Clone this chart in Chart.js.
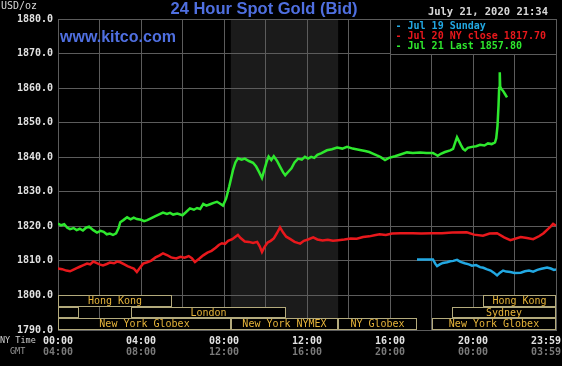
<!DOCTYPE html>
<html>
<head>
<meta charset="utf-8">
<script src="https://cdn.jsdelivr.net/npm/chart.js@4/dist/chart.umd.min.js"></script>
<style>
  html, body { margin: 0; padding: 0; background: #000; }
  canvas { display: block; }
</style>
</head>
<body>
<canvas id="goldChart" width="562" height="366"></canvas>
<script>
// Jul 21 (verde)
const greenHours = [0.00, 0.15, 0.30, 0.45, 0.58, 0.75, 0.90, 1.05, 1.20, 1.35, 1.50, 1.70, 1.88, 2.05, 2.20, 2.35, 2.50, 2.65, 2.80, 2.92,
  3.00, 3.15, 3.33, 3.50, 3.65, 3.80, 4.00, 4.15, 4.30, 4.50, 4.67, 4.85, 5.06, 5.25, 5.40, 5.55, 5.75, 6.00, 6.15, 6.36,
  6.55, 6.70, 6.85, 7.00, 7.15, 7.33, 7.50, 7.66, 7.80, 7.95, 8.10, 8.25, 8.43, 8.55, 8.67, 8.85, 9.00, 9.20, 9.40, 9.55,
  9.70, 9.83, 9.95, 10.05, 10.15, 10.28, 10.40, 10.55, 10.70, 10.85, 10.95, 11.10, 11.25, 11.40, 11.57, 11.75, 11.90, 12.05, 12.20, 12.35,
  12.50, 12.70, 12.96, 13.20, 13.45, 13.70, 13.93, 14.20, 14.55, 14.80, 15.00, 15.20, 15.37, 15.55, 15.76, 15.95, 16.24, 16.50, 16.82, 17.10,
  17.45, 17.75, 18.07, 18.20, 18.30, 18.45, 18.65, 18.90, 19.04, 19.14, 19.23, 19.33, 19.42, 19.52, 19.62, 19.75, 19.95, 20.15, 20.34, 20.55,
  20.72, 20.90, 21.06, 21.12, 21.18, 21.23, 21.26, 21.29, 21.31, 21.36, 21.45, 21.54, 21.64];
const greenValues = [1820.8, 1820.3, 1820.6, 1819.6, 1819.2, 1819.5, 1818.9, 1819.3, 1818.8, 1819.6, 1819.9, 1818.9, 1818.2, 1818.7, 1818.4, 1817.7, 1817.9, 1817.5, 1818.0, 1819.5,
  1821.2, 1821.8, 1822.6, 1822.0, 1822.5, 1822.1, 1821.9, 1821.5, 1821.8, 1822.4, 1822.9, 1823.4, 1824.0, 1823.6, 1823.9, 1823.4, 1823.7, 1823.2, 1824.0, 1825.2,
  1824.8, 1825.3, 1825.0, 1826.5, 1826.0, 1826.4, 1826.8, 1827.1, 1826.6, 1826.0, 1828.0, 1831.5, 1836.2, 1838.5, 1839.7, 1839.3, 1839.6, 1838.9, 1838.4, 1837.3,
  1835.6, 1834.0, 1836.5, 1838.6, 1840.2, 1839.2, 1840.3, 1839.0, 1837.3, 1835.6, 1834.8, 1835.8, 1836.8, 1838.5, 1839.6, 1839.3, 1840.1, 1839.6, 1840.1, 1839.8,
  1840.7, 1841.2, 1842.0, 1842.3, 1842.8, 1842.5, 1843.0, 1842.5, 1842.1, 1841.8, 1841.5, 1841.0, 1840.5, 1840.0, 1839.2, 1839.8, 1840.3, 1840.8, 1841.4, 1841.2,
  1841.4, 1841.2, 1841.2, 1840.8, 1840.4, 1841.0, 1841.5, 1842.0, 1842.4, 1844.2, 1845.8, 1844.6, 1843.5, 1842.4, 1842.0, 1842.7, 1843.0, 1843.2, 1843.6, 1843.4,
  1844.0, 1843.8, 1844.3, 1845.5, 1849.0, 1855.0, 1860.0, 1864.6, 1860.5, 1859.8, 1859.2, 1858.3, 1857.3];

// Jul 20 (vermelho)
const redHours = [0.00, 0.20, 0.40, 0.58, 0.75, 0.90, 1.05, 1.20, 1.40, 1.55, 1.70, 1.85, 2.00, 2.17, 2.35, 2.50, 2.70, 2.85, 3.00, 3.20,
  3.35, 3.50, 3.65, 3.80, 3.95, 4.10, 4.30, 4.50, 4.70, 4.90, 5.06, 5.25, 5.45, 5.70, 5.90, 6.10, 6.30, 6.45, 6.60, 6.80,
  7.00, 7.20, 7.40, 7.60, 7.75, 7.90, 8.05, 8.20, 8.40, 8.55, 8.67, 8.80, 9.00, 9.20, 9.40, 9.60, 9.72, 9.83, 9.95, 10.10,
  10.25, 10.40, 10.55, 10.70, 10.85, 11.00, 11.20, 11.40, 11.55, 11.67, 11.85, 12.05, 12.30, 12.50, 12.75, 13.00, 13.25, 13.50, 13.80, 14.10,
  14.40, 14.70, 15.00, 15.25, 15.50, 15.80, 16.10, 16.50, 17.10, 17.50, 18.00, 18.50, 19.00, 19.70, 20.05, 20.48, 20.80, 21.16, 21.50, 21.80,
  22.30, 22.60, 22.90, 23.20, 23.40, 23.57, 23.75, 23.86, 24.00];
const redValues = [1807.8, 1807.6, 1807.2, 1807.0, 1807.5, 1807.9, 1808.3, 1808.7, 1809.2, 1809.0, 1809.8, 1809.4, 1809.0, 1808.7, 1809.1, 1809.5, 1809.3, 1809.8, 1809.6, 1809.0,
  1808.5, 1808.1, 1807.8, 1806.8, 1808.0, 1809.2, 1809.6, 1810.1, 1811.0, 1811.6, 1812.2, 1811.7, 1811.0, 1810.7, 1811.2, 1810.9, 1811.4, 1810.8, 1809.7, 1810.6,
  1811.6, 1812.4, 1812.9, 1813.8, 1814.6, 1815.1, 1814.9, 1815.8, 1816.3, 1817.0, 1817.5, 1816.6, 1815.6, 1815.5, 1815.2, 1815.5, 1814.2, 1812.6, 1814.0, 1815.3,
  1815.8, 1816.5, 1818.0, 1819.7, 1818.2, 1817.0, 1816.3, 1815.5, 1815.2, 1815.0, 1815.8, 1816.2, 1816.8, 1816.2, 1815.9, 1816.1, 1815.8, 1816.0, 1816.2, 1816.5,
  1816.4, 1816.9, 1817.1, 1817.4, 1817.7, 1817.5, 1817.9, 1818.0, 1818.0, 1817.9, 1818.0, 1818.0, 1818.2, 1818.3, 1817.6, 1817.3, 1817.9, 1818.0, 1816.8, 1816.0,
  1816.9, 1816.6, 1816.3, 1817.2, 1818.0, 1819.0, 1820.0, 1820.7, 1820.2];

// Jul 19 domingo (azul)
const blueHours = [17.30, 18.07, 18.18, 18.27, 18.40, 18.55, 18.75, 18.90, 19.05, 19.23, 19.40, 19.60, 19.80, 19.95, 20.15, 20.34, 20.50, 20.65, 20.85, 21.00,
  21.16, 21.30, 21.45, 21.60, 21.80, 22.00, 22.30, 22.50, 22.70, 22.90, 23.10, 23.30, 23.57, 23.75, 23.90, 24.00];
const blueValues = [1810.4, 1810.4, 1809.2, 1808.5, 1809.0, 1809.4, 1809.6, 1809.9, 1810.0, 1810.3, 1809.7, 1809.3, 1809.0, 1808.6, 1808.8, 1808.2, 1808.0, 1807.6, 1807.2, 1806.6,
  1805.8, 1806.6, 1807.2, 1806.9, 1806.8, 1806.5, 1806.6, 1807.0, 1807.2, 1806.9, 1807.4, 1807.7, 1808.1, 1807.8, 1807.4, 1807.5];

// Rótulos do eixo X (hora de NY e GMT)
const labelHours = [0, 4, 8, 12, 16, 20, 24];
const nyLabels = ['00:00', '04:00', '08:00', '12:00', '16:00', '20:00', '23:59'];
const gmtLabels = ['04:00', '08:00', '12:00', '16:00', '20:00', '00:00', '03:59'];

// Sessões dos mercados (linha 0 = topo)
const marketNames = ['Hong Kong', 'Hong Kong', '', 'London', 'Sydney', 'New York Globex', 'New York NYMEX', 'NY Globex', 'New York Globex'];
const marketStart = [0, 20.5, 0, 3.5, 19.0, 0, 8.33, 13.5, 18.0];
const marketEnd = [5.5, 24, 1.0, 11.0, 24, 8.33, 13.5, 17.3, 24];
const marketRow = [0, 0, 1, 1, 1, 2, 2, 2, 2];

// Faixa do pregão NYMEX (sombreada)
const pitStart = 8.33;
const pitEnd = 13.5;

const legendLabels = ['Jul 19 Sunday', 'Jul 20 NY close 1817.70', 'Jul 21 Last 1857.80'];

const gridColor = '#5c5c5c';
const mono = 'DejaVu Sans Mono';

function pts(hours, values) {
  return hours.map((h, i) => ({ x: h, y: values[i] }));
}

const kitcoPlugin = {
  id: 'kitco',
  beforeDraw(chart) {
    const { ctx, chartArea, scales } = chart;
    ctx.save();
    ctx.fillStyle = '#000';
    ctx.fillRect(0, 0, chart.width, chart.height);
    const x1 = scales.x.getPixelForValue(pitStart);
    const x2 = scales.x.getPixelForValue(pitEnd);
    ctx.fillStyle = '#1b1b1b';
    ctx.fillRect(x1, chartArea.top, x2 - x1, chartArea.bottom - chartArea.top);
    ctx.restore();
  },
  beforeDatasetsDraw(chart) {
    const { ctx, scales } = chart;
    const xs = scales.x, ys = scales.y;
    ctx.save();
    // caixas dos mercados
    ctx.font = '10px ' + mono;
    ctx.textAlign = 'center';
    ctx.textBaseline = 'middle';
    marketNames.forEach((name, i) => {
      const top = 1800 - marketRow[i] * 10 / 3;
      const yTop = Math.round(ys.getPixelForValue(top)) + 0.5;
      const yBot = Math.round(ys.getPixelForValue(top - 10 / 3)) - 0.5;
      const xl = Math.round(xs.getPixelForValue(marketStart[i])) + 0.5;
      const xr = Math.round(xs.getPixelForValue(marketEnd[i])) - 0.5;
      ctx.fillStyle = '#000';
      ctx.fillRect(xl, yTop, xr - xl, yBot - yTop);
      ctx.strokeStyle = '#b3aa7c';
      ctx.lineWidth = 1;
      ctx.strokeRect(xl, yTop, xr - xl, yBot - yTop);
      if (name) {
        ctx.fillStyle = '#e6b43a';
        ctx.fillText(name, (xl + xr) / 2, (yTop + yBot) / 2 + 0.5);
      }
    });
    // caixa da legenda
    const lx = Math.round(xs.getPixelForValue(16)) + 0.5;
    const rx = Math.round(xs.getPixelForValue(24)) + 0.5;
    const ty = Math.round(ys.getPixelForValue(1880)) + 0.5;
    const by = Math.round(ys.getPixelForValue(1870)) + 0.5;
    ctx.fillStyle = '#000';
    ctx.fillRect(lx, ty, rx - lx, by - ty);
    ctx.strokeStyle = gridColor;
    ctx.strokeRect(lx, ty, rx - lx, by - ty);
    ctx.font = 'bold 10px ' + mono;
    ctx.textAlign = 'left';
    chart.data.datasets.forEach((ds, i) => {
      ctx.fillStyle = ds.borderColor;
      ctx.fillText('- ' + legendLabels[i], lx + 5, ty + 7 + i * 10);
    });
    ctx.restore();
  },
  afterDraw(chart) {
    const { ctx, scales } = chart;
    ctx.save();
    ctx.textBaseline = 'middle';
    // titulo
    ctx.font = 'bold 16.5px "Liberation Sans", Arial, sans-serif';
    ctx.fillStyle = '#4f6fe0';
    ctx.textAlign = 'center';
    ctx.fillText('24 Hour Spot Gold (Bid)', 264, 9);
    ctx.font = 'bold 16px "Liberation Sans", Arial, sans-serif';
    ctx.textAlign = 'left';
    ctx.fillText('www.kitco.com', 60, 38);
    // USD/oz e data
    ctx.font = '10px ' + mono;
    ctx.fillStyle = '#d8d8d8';
    ctx.fillText('USD/oz', 1, 6);
    ctx.font = 'bold 10.5px ' + mono;
    ctx.textAlign = 'right';
    ctx.fillText('July 21, 2020 21:34', 548, 12);
    // eixo X
    ctx.font = '8.5px ' + mono;
    ctx.textAlign = 'left';
    ctx.fillStyle = '#d0d0d0';
    ctx.fillText('NY Time', 0, 341);
    ctx.fillStyle = '#9a9a9a';
    ctx.fillText('GMT', 10, 352);
    labelHours.forEach((h, i) => {
      const px = scales.x.getPixelForValue(h);
      const last = i === labelHours.length - 1;
      ctx.textAlign = last ? 'right' : 'center';
      const tx = last ? 561 : px;
      ctx.font = 'bold 10px ' + mono;
      ctx.fillStyle = '#e2e2e2';
      ctx.fillText(nyLabels[i], tx, 341);
      ctx.fillStyle = '#7a7a7a';
      ctx.fillText(gmtLabels[i], tx, 352);
    });
    ctx.restore();
  }
};

const ctx = document.getElementById('goldChart').getContext('2d');
const goldChart = new Chart(ctx, {
  type: 'line',
  data: {
    datasets: [
      { label: 'Jul 19', data: pts(blueHours, blueValues), borderColor: '#22a8e2' },
      { label: 'Jul 20', data: pts(redHours, redValues), borderColor: '#e8181c' },
      { label: 'Jul 21', data: pts(greenHours, greenValues), borderColor: '#2ee82e' }
    ].map(ds => Object.assign(ds, { borderWidth: 2.5, pointRadius: 0, tension: 0, fill: false }))
  },
  options: {
    responsive: false,
    animation: false,
    layout: { padding: { top: 19, right: 6, left: 0, bottom: 0 } },
    plugins: { legend: { display: false }, tooltip: { enabled: false } },
    scales: {
      x: {
        type: 'linear',
        min: 0,
        max: 24,
        ticks: { stepSize: 2, display: false },
        grid: { color: gridColor, drawTicks: false },
        border: { color: gridColor },
        afterFit: s => { s.height = 36; }
      },
      y: {
        min: 1790,
        max: 1880,
        ticks: {
          stepSize: 10,
          padding: 5,
          color: '#e2e2e2',
          font: { family: mono, size: 10, weight: 'bold' },
          callback: v => v.toFixed(1)
        },
        grid: { color: gridColor, drawTicks: false },
        border: { color: gridColor },
        afterFit: s => { s.width = 58; }
      }
    }
  },
  plugins: [kitcoPlugin]
});
</script>
</body>
</html>
